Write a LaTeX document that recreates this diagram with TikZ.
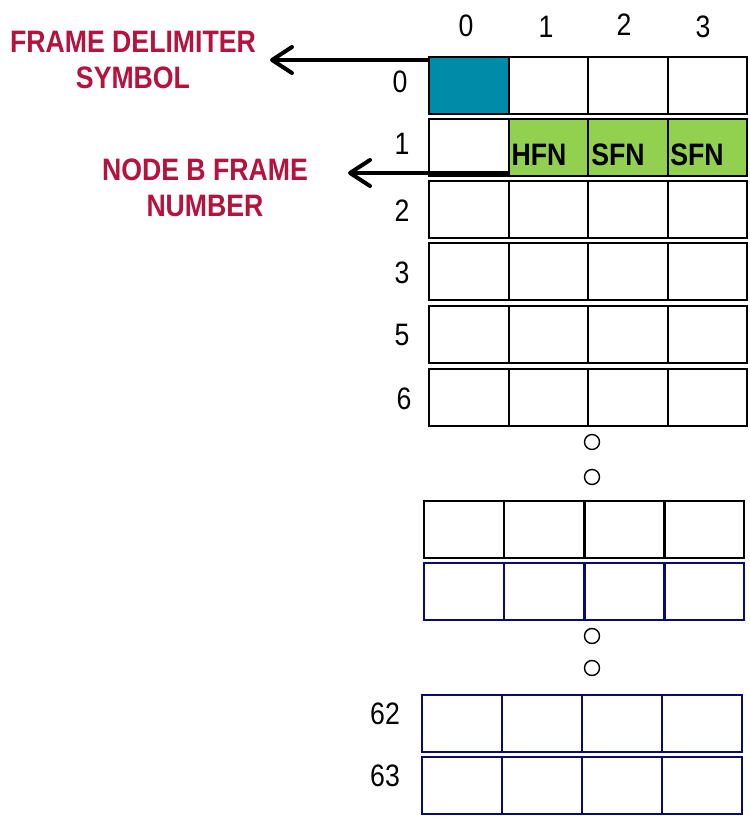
\documentclass[tikz,border=0pt]{standalone}
\usepackage{fontspec}
\setmainfont{Liberation Sans}[FakeStretch=0.86]
\usetikzlibrary{arrows.meta}
\definecolor{lblred}{HTML}{B5123E}
\definecolor{teal1}{HTML}{008CA8}
\definecolor{green1}{HTML}{92D050}
\definecolor{navy1}{HTML}{0A0A70}
\tikzset{
  cell/.style={draw=black, line width=2pt, minimum width=79.5pt, minimum height=57pt, anchor=north west, inner sep=0pt, outer sep=0pt},
  bcell/.style={cell, draw=navy1},
  num/.style={font=\fontsize{31}{33}\selectfont, inner sep=0pt},
  lbl/.style={font=\fontsize{31}{36}\selectfont\bfseries, text=lblred, align=center, inner sep=0pt},
  fld/.style={font=\fontsize{31}{33}\selectfont\bfseries},
  dot/.style={draw, line width=1.4pt, circle, minimum size=15pt, inner sep=0pt},
  arr/.style={line width=4.5pt, -{Straight Barb[length=20pt,width=26pt,line width=4pt,round]}},
}
\begin{document}
\begin{tikzpicture}[x=1pt,y=-1pt]
\useasboundingbox (0,0) rectangle (749,821);
% column labels
\node[num] (h0) at (466,26) {0};
\node[num] (h1) at (546,27) {1};
\node[num] (h2) at (624,25) {2};
\node[num] (h3) at (703,27) {3};
% upper rows
\foreach \r/\y in {0/57,1/119,2/181,3/243,5/306,6/369}{
  \foreach \c in {0,1,2,3}{
    \node[cell] (r\r c\c) at ({429+\c*79.5},\y) {};
  }
}
\node[cell, fill=teal1] (r0c0b) at (429,57) {};
\node[cell, fill=green1] (r1c1b) at (508.5,119) {};
\node[cell, fill=green1] (r1c2b) at (588,119) {};
\node[cell, fill=green1] (r1c3b) at (667.5,119) {};
\node[fld] (hfn) at (539,155) {HFN};
\node[fld] (sfn1) at (618,155) {SFN};
\node[fld] (sfn2) at (697,155) {SFN};
% row labels
\node[num] (l0) at (400,82) {0};
\node[num] (l1) at (402,144) {1};
\node[num] (l2) at (402,211) {2};
\node[num] (l3) at (402,273) {3};
\node[num] (l5) at (402,335) {5};
\node[num] (l6) at (404,399) {6};
% dots
\node[dot] (d1) at (592,442) {};
\node[dot] (d2) at (592,477) {};
% black row
\foreach \c in {0,1,2,3}{ \node[cell] (k\c) at ({424+\c*80.25},501) {}; }
% blue row
\foreach \c in {0,1,2,3}{ \node[bcell] (b\c) at ({424+\c*80.25},563) {}; }
\node[dot] (d3) at (592,636) {};
\node[dot] (d4) at (592,668) {};
% rows 62 and 63
\foreach \c in {0,1,2,3}{ \node[bcell] (s\c) at ({422+\c*80},695) {}; }
\foreach \c in {0,1,2,3}{ \node[bcell] (t\c) at ({422+\c*80},757) {}; }
\node[num] (l62) at (385,714) {62};
\node[num] (l63) at (385,776) {63};
% labels and arrows
\node[lbl] (fds) at (133,60) {FRAME DELIMITER\\SYMBOL};
\node[lbl] (nbf) at (205,188) {NODE B FRAME\\NUMBER};
\coordinate (a1) at (270,60);
\coordinate (a2) at (348,173);
\draw[arr] ([yshift=-3pt]r0c0b.north west) -- (a1);
\draw[arr] ([yshift=3pt]r1c1b.south west) -- (a2);
\end{tikzpicture}
\end{document}
